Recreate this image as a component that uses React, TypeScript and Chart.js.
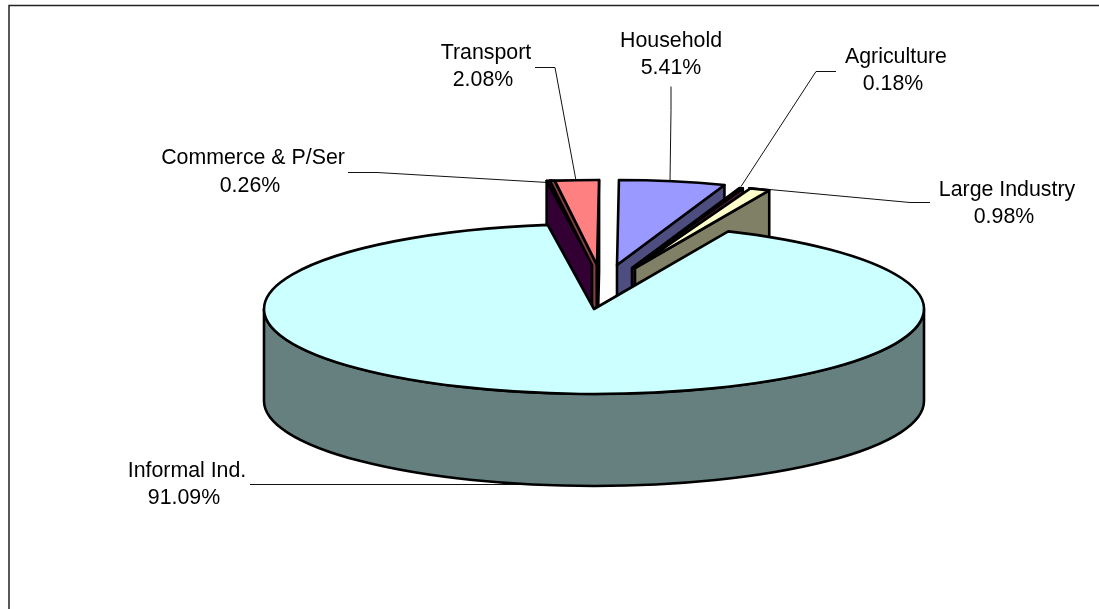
import React, { useEffect, useRef } from "react";
import { Chart, registerables } from "chart.js";

Chart.register(...registerables);

// Pollution share by sector, in percent.
const sectors = ["Household", "Agriculture", "Large Industry", "Informal Ind.", "Commerce & P/Ser", "Transport"];
const shares = [5.41, 0.18, 0.98, 91.09, 0.26, 2.08];
const topColors = ["#9999FF", "#993366", "#FFFFCC", "#CCFFFF", "#660066", "#FF8080"];
const sideColors = ["#4D4D80", "#4D1A33", "#808066", "#668080", "#330033", "#804040"];

// Where each wedge's tip sits relative to the pie centre, and its width factor.
const wedgeOffsets = [
  { dx: 23, dy: -44, k: 0.96 },
  { dx: 38, dy: -41, k: 0.96 },
  { dx: 41, dy: -41, k: 1 },
  { dx: 0, dy: 0, k: 1 },
  { dx: -1, dy: -44, k: 1 },
  { dx: 3, dy: -44, k: 1.03 },
];

// Label centres (name line, then the percentage's horizontal shift) and leader-line paths.
const labelCenters = [
  [671, 41, 0], [896, 57, -3], [1007, 190, -3], [187, 471, -3], [253, 158.5, -3], [486, 53, -3],
];
const leaders = [
  [[671, 86], [671, 110], [670, 181]],
  [[836, 71], [816, 71], [741, 186]],
  [[930, 202], [910, 202], [748, 187]],
  [[250, 484], [525, 484]],
  [[348, 172], [377, 172], [548, 182]],
  [[535, 67], [555, 67], [576, 180]],
];

const CX = 594;
const CY = 309;
const RX = 330;
const RY = 85;
const DEPTH = 92;
const PAINT_ORDER = [4, 5, 0, 1, 2, 3];

type Ctx = CanvasRenderingContext2D;

function outline(ctx: Ctx, fill: string) {
  ctx.fillStyle = fill;
  ctx.fill();
  ctx.strokeStyle = "#000";
  ctx.lineWidth = 2.6;
  ctx.stroke();
}

function polygon(ctx: Ctx, pts: number[][], fill: string) {
  ctx.beginPath();
  pts.forEach(([x, y], i) => (i ? ctx.lineTo(x, y) : ctx.moveTo(x, y)));
  ctx.closePath();
  outline(ctx, fill);
}

// Paints the pie's arcs as an extruded, tilted pie, using the angles the controller computed.
const tiltedPie = {
  id: "tiltedPie",
  beforeDatasetDraw(chart: Chart) {
    const ctx = chart.ctx as Ctx;
    const arcs = chart.getDatasetMeta(0).data as any[];
    ctx.save();
    ctx.lineJoin = "round";

    ctx.strokeStyle = "#111";
    ctx.lineWidth = 1;
    leaders.forEach((path) => {
      ctx.beginPath();
      path.forEach(([x, y], i) => (i ? ctx.lineTo(x, y + 0.5) : ctx.moveTo(x, y + 0.5)));
      ctx.stroke();
    });

    PAINT_ORDER.forEach((i) => {
      const { startAngle: a0, endAngle: a1 } = arcs[i];
      const o = wedgeOffsets[i];
      const ax = CX + o.dx;
      const ay = CY + o.dy;
      const rx = RX * o.k;
      const rim = (a: number) => [ax + rx * Math.cos(a), ay + RY * Math.sin(a)];
      const cutFace = (a: number, fill: string) => {
        const [px, py] = rim(a);
        polygon(ctx, [[ax, ay], [px, py], [px, py + DEPTH], [ax, ay + DEPTH]], fill);
      };

      if (sectors[i] === "Informal Ind.") {
        ctx.beginPath();
        ctx.moveTo(CX + RX, CY);
        ctx.lineTo(CX + RX, CY + DEPTH);
        ctx.ellipse(CX, CY + DEPTH, RX, RY, 0, 0, Math.PI);
        ctx.lineTo(CX - RX, CY);
        ctx.ellipse(CX, CY, RX, RY, 0, Math.PI, 0, true);
        ctx.closePath();
        outline(ctx, sideColors[i]);
      } else if (sectors[i] === "Commerce & P/Ser") {
        cutFace(a0, sideColors[i]);
      } else if (sectors[i] === "Transport") {
        const [px, py] = rim(a0);
        polygon(ctx, [[px - 5, py], [px, py], [ax, ay], [ax, ay + DEPTH], [ax - 5, ay + DEPTH], [ax - 5, ay]], sideColors[i]);
        cutFace(a1, sideColors[i]);
      } else {
        cutFace(a1, sideColors[i]);
      }

      ctx.beginPath();
      ctx.moveTo(ax, ay);
      ctx.ellipse(ax, ay, rx, RY, 0, a0, a1);
      ctx.closePath();
      outline(ctx, topColors[i]);
    });

    ctx.fillStyle = "#000";
    ctx.font = '21.33px "Liberation Sans", Arial, sans-serif';
    ctx.textAlign = "center";
    ctx.textBaseline = "middle";
    sectors.forEach((name, i) => {
      const [x, y, shift] = labelCenters[i];
      ctx.fillText(name, x, y);
      ctx.fillText(`${shares[i].toFixed(2)}%`, x + shift, y + 27.5);
    });
    ctx.restore();
    return false;
  },
  beforeDraw(chart: Chart) {
    // Plot frame: its right and bottom sides run past the visible page.
    const ctx = chart.ctx as Ctx;
    ctx.save();
    ctx.strokeStyle = "#222";
    ctx.lineWidth = 1.5;
    ctx.strokeRect(9, 5.5, 1300, 900);
    ctx.restore();
  },
};

export default function App() {
  const ref = useRef<HTMLCanvasElement>(null);
  useEffect(() => {
    const chart = new Chart(ref.current!, {
      type: "pie",
      data: {
        labels: sectors,
        datasets: [{ data: shares, backgroundColor: topColors, borderColor: "#000", borderWidth: 2 }],
      },
      options: {
        animation: false,
        responsive: false,
        rotation: 0.35,
        plugins: { legend: { display: false }, tooltip: { enabled: false }, title: { display: false } },
      },
      plugins: [tiltedPie as any],
    });
    return () => chart.destroy();
  }, []);
  return (
    <div style={{ position: "fixed", left: 0, top: 0, width: 1099, height: 609, overflow: "hidden", background: "#fff" }}>
      <canvas ref={ref} width={1099} height={609} style={{ display: "block" }} />
    </div>
  );
}
